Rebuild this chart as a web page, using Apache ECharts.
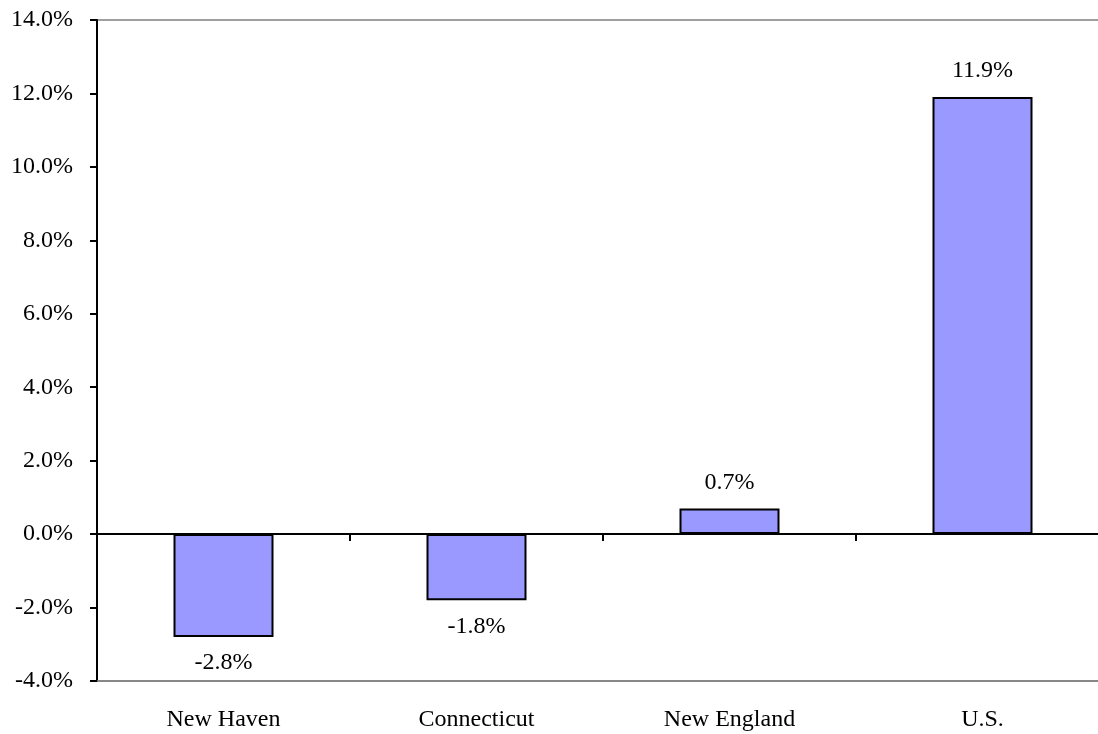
<!DOCTYPE html>
<html>
<head>
<meta charset="utf-8">
<script src="https://cdn.jsdelivr.net/npm/echarts@6/dist/echarts.min.js"></script>
<style>
  html, body { margin: 0; padding: 0; background: #fff; overflow: hidden; }
  /* plot area runs slightly past the right edge of the window */
  #chart { width: 1109px; height: 734px; }
</style>
</head>
<body>
<div id="chart"></div>
<script>
// Percent change by region
const categories = ['New Haven', 'Connecticut', 'New England', 'U.S.'];
const changePct = [-2.8, -1.8, 0.7, 11.9];

const FONT = '"Liberation Serif", "Times New Roman", serif';

const barData = changePct.map(v => ({
  value: v,
  label: { position: v < 0 ? 'bottom' : 'top' }
}));

const chart = echarts.init(document.getElementById('chart'));
chart.setOption({
  animation: false,
  backgroundColor: '#ffffff',
  grid: {
    left: 97, right: 0, top: 20, bottom: 53,
    show: true, borderColor: '#808080', borderWidth: 1.5,
    containLabel: false
  },
  xAxis: [
    {
      // baseline at zero with boundary ticks
      type: 'category',
      data: categories,
      position: 'top',
      axisLine: { onZero: true, lineStyle: { color: '#000', width: 2 } },
      axisTick: { show: true, inside: true, length: 7, lineStyle: { color: '#000', width: 2 } },
      axisLabel: { show: false },
      splitLine: { show: false }
    },
    {
      // category names along the bottom
      type: 'category',
      data: categories,
      position: 'bottom',
      axisLine: { onZero: false, lineStyle: { color: '#808080', width: 1.5 } },
      axisTick: { show: false },
      axisLabel: { color: '#000', fontFamily: FONT, fontSize: 24, margin: 27 },
      splitLine: { show: false }
    }
  ],
  yAxis: {
    type: 'value',
    min: -4, max: 14, interval: 2,
    axisLine: { show: true, onZero: false, lineStyle: { color: '#000', width: 2 } },
    axisTick: { show: true, length: 7, lineStyle: { color: '#000', width: 2 } },
    axisLabel: {
      color: '#000', fontFamily: FONT, fontSize: 24, margin: 24,
      formatter: v => v.toFixed(1) + '%'
    },
    splitLine: { show: false }
  },
  series: [{
    type: 'bar',
    xAxisIndex: 0,
    data: barData,
    barWidth: 100,
    itemStyle: { color: '#9999FF', borderColor: '#000', borderWidth: 2 },
    label: {
      show: true, color: '#000', fontFamily: FONT, fontSize: 24, distance: 14,
      formatter: p => p.value.toFixed(1) + '%'
    }
  }]
});
</script>
</body>
</html>
